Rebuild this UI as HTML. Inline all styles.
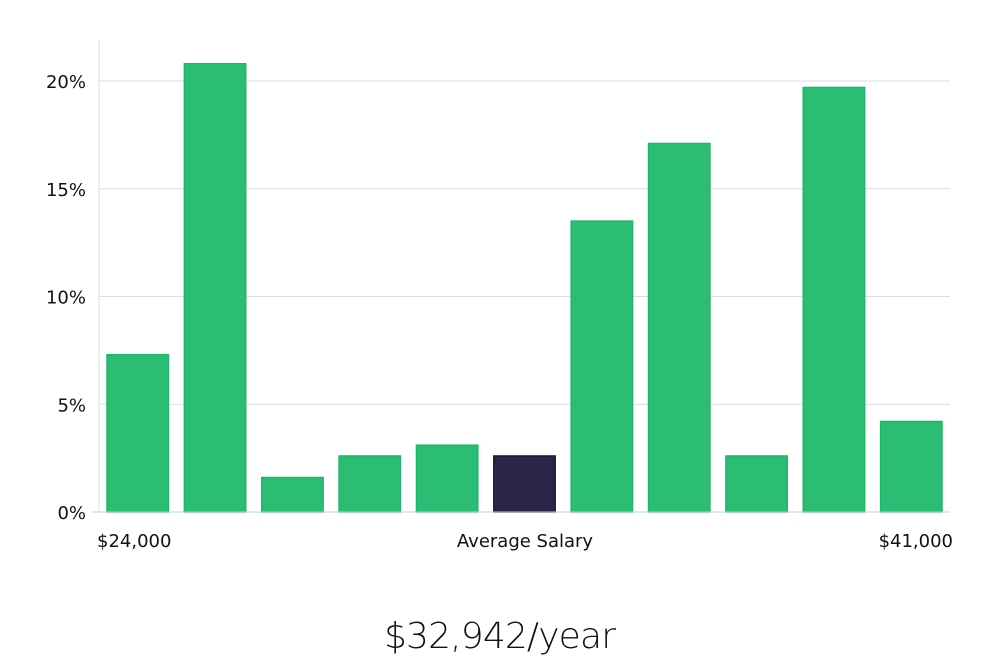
<!DOCTYPE html>
<html><head><meta charset="utf-8"><style>
body{margin:0;background:#fff;font-family:"Liberation Sans","DejaVu Sans",sans-serif;}
svg{display:block}
</style></head><body>
<svg width="1000" height="660">
<g id="grid"></g><g id="bars"></g><g id="ylabels"></g>
<line x1="99" y1="40" x2="99" y2="512" stroke="#ddd" stroke-width="1"/>
<line x1="92" y1="512" x2="950" y2="512" stroke="#ccc" stroke-width="1"/>
<text x="97" y="547" font-size="18" fill="#111" font-family="DejaVu Sans, sans-serif">$24,000</text>
<text x="525" y="547" font-size="18" fill="#111" text-anchor="middle" font-family="DejaVu Sans, sans-serif">Average Salary</text>
<text x="953" y="547" font-size="18" fill="#111" text-anchor="end" font-family="DejaVu Sans, sans-serif">$41,000</text>
<text x="500" y="648" font-size="36" fill="#111" text-anchor="middle" font-family="DejaVu Sans, sans-serif" font-weight="300" textLength="232">$32,942/year</text>
</svg>
<script>
const values=[7.3,20.8,1.6,2.6,3.1,2.6,13.5,17.1,2.6,19.7,4.2];
const highlightIndex=5;
const ticks=[0,5,10,15,20];
const tickLabels=["0%","5%","10%","15%","20%"];
const NS="http://www.w3.org/2000/svg";
const x0=99,x1=950,y0=512,yTop20=81;
function y(v){return y0-(y0-yTop20)*v/20;}
const step=(x1-x0)/values.length;
function bx(i){return x0+i*step+7.5;}
const grid=document.getElementById('grid'),bars=document.getElementById('bars'),yl=document.getElementById('ylabels');
ticks.forEach((t,i)=>{
 if(t>0){const l=document.createElementNS(NS,'line');
 l.setAttribute('x1',x0);l.setAttribute('x2',x1);l.setAttribute('y1',y(t));l.setAttribute('y2',y(t));
 l.setAttribute('stroke','#ddd');
 
 
 grid.appendChild(l);}
 const tx=document.createElementNS(NS,'text');
 tx.setAttribute('x',86);tx.setAttribute('y',y(t)+7);tx.setAttribute('text-anchor','end');
 tx.setAttribute('font-size','18');tx.setAttribute('font-family','DejaVu Sans, sans-serif');tx.setAttribute('fill','#111');
 tx.textContent=tickLabels[i];
 
 
 yl.appendChild(tx);
});
values.forEach((v,i)=>{
 const r=document.createElementNS(NS,'rect');
 const hi=i===highlightIndex;
 r.setAttribute('x',bx(i)+0.5);r.setAttribute('y',y(v));r.setAttribute('width',step-15-1);r.setAttribute('height',y0-y(v));
 r.setAttribute('fill',hi?'#2a2549':'#2bbd74');r.setAttribute('stroke',hi?'#1c1838':'#1fb56a');r.setAttribute('stroke-width','1.5');
 
 
 bars.appendChild(r);
});
</script>
</body></html>
